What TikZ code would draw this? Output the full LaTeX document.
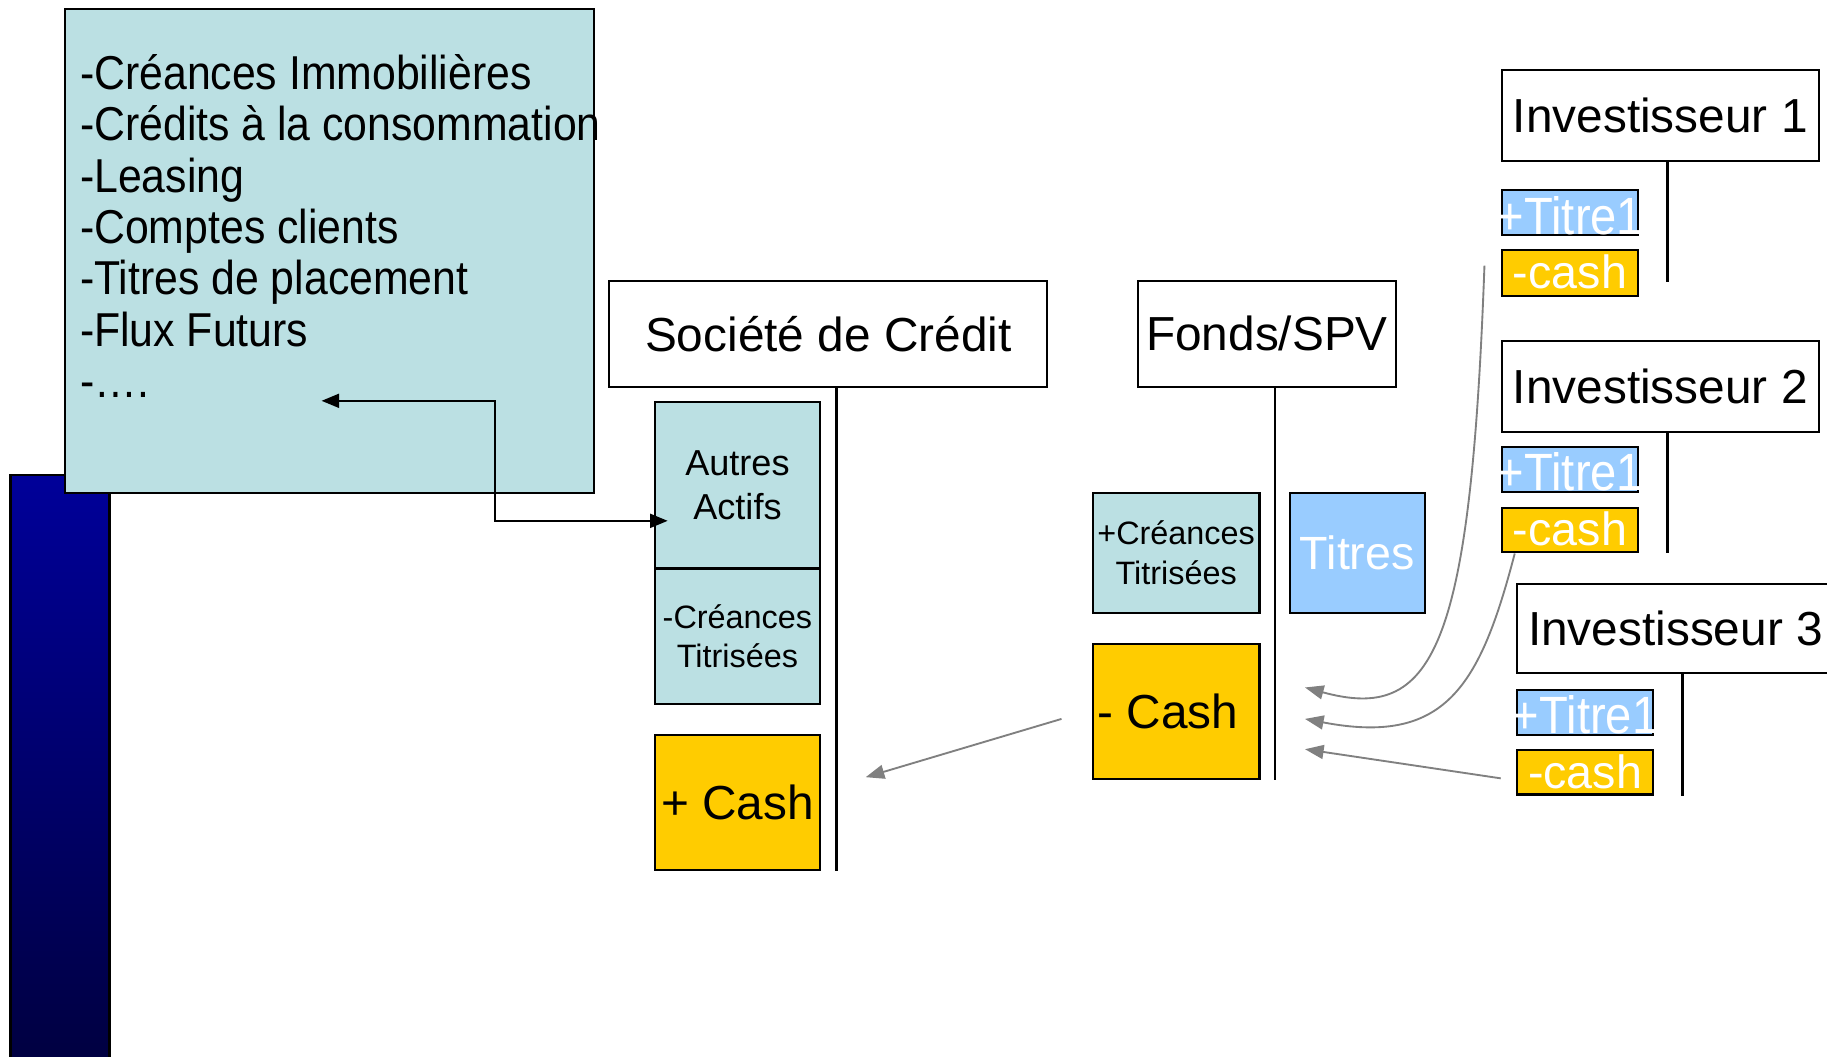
\documentclass[tikz,border=0pt]{standalone}
\usepackage{fontspec}
\setmainfont{Liberation Sans}
\newfontfamily\narrowsans[FakeStretch=0.9]{Liberation Sans}
\usetikzlibrary{arrows.meta,calc}
\definecolor{cyanbox}{HTML}{BBE0E3}
\definecolor{goldbox}{HTML}{FFCC00}
\definecolor{skybox}{HTML}{99CCFF}
\definecolor{barTop}{HTML}{000099}
\definecolor{barBot}{HTML}{000040}
\definecolor{flowgray}{HTML}{808080}
\newcommand{\fsz}[2]{\fontsize{#1}{#2}\selectfont}
\newcommand{\smtext}[2]{\smash{\makebox[0pt]{\raisebox{#1}{#2}}}}
\tikzset{
  acctbox/.style={draw=black, line width=1.8pt, inner sep=0pt, anchor=north west, align=center},
  hdrbox/.style={acctbox, fill=white, font=\fsz{41}{49}},
  listtext/.style={anchor=base west, inner sep=0pt, font=\narrowsans\fsz{40.8}{44}},
  titrebox/.style={acctbox, fill=skybox, text=white, font=\narrowsans\fsz{45}{50}, minimum width=117pt},
  cashbox/.style={acctbox, fill=goldbox, text=white, font=\fsz{40}{48}, minimum width=117pt},
  tline/.style={draw=black, line width=2.2pt},
  elbow/.style={draw=black, line width=1.5pt, {Triangle[length=15pt,width=12pt]}-{Triangle[length=15pt,width=12pt]}},
  flow/.style={draw=flowgray, line width=1.6pt, -{Triangle[length=16pt,width=12pt]}}
}
\begin{document}
\begin{tikzpicture}[x=1pt,y=-1pt]
\useasboundingbox (0,0) rectangle (1568,907);
\fill[white] (0,0) rectangle (1568,907);
% dark blue bar
\shade[top color=barTop, bottom color=barBot, draw=black, line width=1.8pt] (9,408) rectangle (94,915);
% pool of assets
\node[acctbox, fill=cyanbox, minimum width=454pt, minimum height=415pt] (pool) at (55,7) {};
\foreach \txt [count=\i] in {-Créances Immobilières,-Crédits à la consommation,-Leasing,-Comptes clients,-Titres de placement,-Flux Futurs,-….}
  \node[listtext] (item\i) at (68.5,33+44*\i) {\txt};
% Societe de credit
\node[hdrbox, minimum width=376pt, minimum height=91pt] (soc) at (522,240) {Société de Crédit};
\node[acctbox, fill=cyanbox, minimum width=142pt, minimum height=143pt, font=\fsz{31}{38}] (autres) at (561,344) {Autres\\Actifs};
\node[acctbox, fill=cyanbox, minimum width=142pt, minimum height=116pt, font=\fsz{27.8}{34}] (mcreances) at (561,487) {-Créances\\Titrisées};
\node[acctbox, fill=goldbox, minimum width=142pt, minimum height=116pt, font=\fsz{41}{49}] (pcash) at (561,630) {+ Cash};
\draw[tline, line width=2.6pt] ($(soc.south)+(7,0)$) -- ++(0,415);
% Fonds / SPV
\node[hdrbox, minimum width=221pt, minimum height=91pt] (fonds) at (976,240) {Fonds/SPV};
\node[acctbox, fill=cyanbox, minimum width=143pt, minimum height=103pt, font=\fsz{27.8}{34}] (pcreances) at (937,422) {+Créances\\Titrisées};
\node[acctbox, fill=skybox, text=white, minimum width=116pt, minimum height=103pt, font=\fsz{40}{48}] (titres) at (1106,422) {Titres};
\node[acctbox, fill=goldbox, minimum width=143pt, minimum height=116pt, font=\fsz{41}{49}] (mcash) at (937,552) {- Cash\hspace*{14pt}};
\draw[tline, line width=1.8pt] ($(fonds.south)+(6.5,0)$) -- ++(0,337);
% Investisseurs
\node[hdrbox, minimum width=272pt, minimum height=78pt] (inv1) at (1288,59) {Investisseur 1};
\node[titrebox, minimum height=39pt] (ti1) at (1288,162) {\smtext{-18.5pt}{+Titre1}};
\node[cashbox, minimum height=39pt] (ca1) at (1288,214) {\smtext{-13.5pt}{-cash}};
\draw[tline] ($(inv1.south)+(6,0)$) -- ++(0,103);
\node[hdrbox, minimum width=272pt, minimum height=78pt] (inv2) at (1288,292) {Investisseur 2};
\node[titrebox, minimum height=38pt] (ti2) at (1288,383) {\smtext{-18pt}{+Titre1}};
\node[cashbox, minimum height=38pt] (ca2) at (1288,435) {\smtext{-13.5pt}{-cash}};
\draw[tline] ($(inv2.south)+(6,0)$) -- ++(0,103);
\node[hdrbox, minimum width=272pt, minimum height=77pt] (inv3) at (1301,500) {Investisseur 3};
\node[titrebox, minimum height=39pt] (ti3) at (1301,591) {\smtext{-18.5pt}{+Titre1}};
\node[cashbox, minimum height=38pt] (ca3) at (1301,643) {\smtext{-13.5pt}{-cash}};
\draw[tline] ($(inv3.south)+(6,0)$) -- ++(0,104);
% connectors
\coordinate (poolpt) at (276,344);
\coordinate (bend) at (425,400);
\coordinate (autrespt) at (573,447);
\draw[elbow] (poolpt) -| (bend) |- (autrespt);
\coordinate (cashout) at (911,617);
\coordinate (cashin) at (743,667);
\draw[flow] (cashout) -- (cashin);
\coordinate (f1s) at (1274,228);
\coordinate (f1e) at (1120,590);
\draw[flow] (f1s) .. controls (1262,560) and (1230,620) .. (f1e);
\coordinate (f2s) at (1300,475);
\coordinate (f2e) at (1120,617);
\draw[flow] (f2s) .. controls (1270,590) and (1240,640) .. (f2e);
\coordinate (f3s) at (1288,668);
\coordinate (f3e) at (1120,643);
\draw[flow] (f3s) -- (f3e);
\end{tikzpicture}
\end{document}
